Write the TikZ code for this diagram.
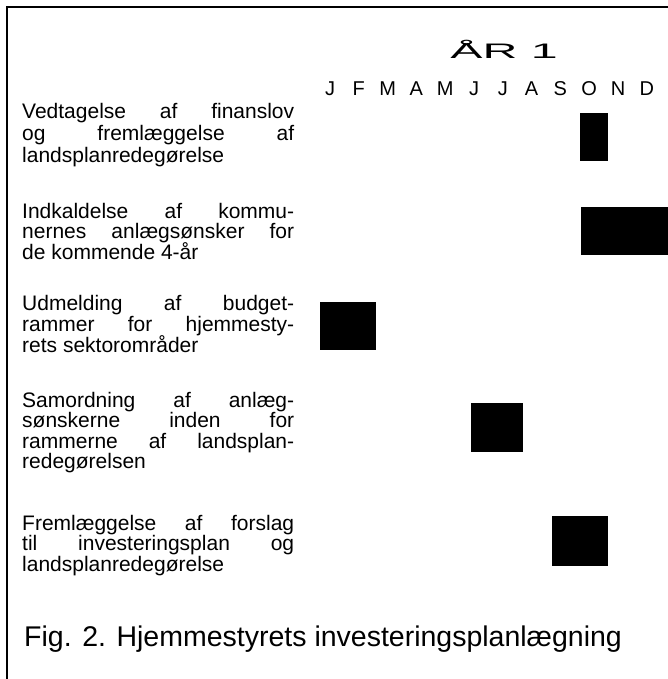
\documentclass[tikz,border=0pt]{standalone}
\usepackage{fontspec}
\setmainfont{Liberation Sans}
\begin{document}
\begin{tikzpicture}[x=1pt,y=-1pt,
  txt/.style={anchor=base west, inner sep=0pt, font=\fontsize{21}{21}\selectfont},
  month/.style={anchor=base, inner sep=0pt, font=\fontsize{20}{20}\selectfont},
  bar/.style={fill=black, draw=none, inner sep=0pt},
  frame/.style={line width=1.2pt}]
\useasboundingbox (0,0) rectangle (668,679);
% frame
\coordinate (bl) at (7,679);
\coordinate (tl) at (7,7);
\coordinate (tr) at (668,7);
\draw[frame] (bl) -- (tl) -- (tr);
% title
\node[anchor=base, inner sep=0pt, font=\fontsize{21}{21}\selectfont] (year) at (504,59) {\scalebox{2.3}[1]{ÅR 1}};
% months
\foreach \m [count=\i from 0] in {J,F,M,A,M,J,J,A,S,O,N,D}
  \node[month] (m\i) at ({330+28.8*\i},96) {\m};
% block 1
\node[txt] (a1) at (22,119) {\makebox[272pt][s]{Vedtagelse af finanslov}};
\node[txt] (a2) at (22,140.5) {\makebox[272pt][s]{og fremlæggelse af}};
\node[txt] (a3) at (22,162) {landsplanredegørelse};
% block 2
\node[txt] (b1) at (22,218) {\makebox[272pt][s]{Indkaldelse af kommu-}};
\node[txt] (b2) at (22,238.5) {\makebox[272pt][s]{nernes anlægsønsker for}};
\node[txt] (b3) at (22,259) {de kommende 4-år};
% block 3
\node[txt] (c1) at (22,310) {\makebox[272pt][s]{Udmelding af budget-}};
\node[txt] (c2) at (22,331) {\makebox[272pt][s]{rammer for hjemmesty-}};
\node[txt] (c3) at (22,352) {rets sektorområder};
% block 4
\node[txt] (d1) at (22,407) {\makebox[272pt][s]{Samordning af anlæg-}};
\node[txt] (d2) at (22,427.5) {\makebox[272pt][s]{sønskerne inden for}};
\node[txt] (d3) at (22,448) {\makebox[272pt][s]{rammerne af landsplan-}};
\node[txt] (d4) at (22,468.5) {redegørelsen};
% block 5
\node[txt] (e1) at (22,530) {\makebox[272pt][s]{Fremlæggelse af forslag}};
\node[txt] (e2) at (22,550.5) {\makebox[272pt][s]{til investeringsplan og}};
\node[txt] (e3) at (22,571) {landsplanredegørelse};
% bars
\node[bar, minimum width=28pt, minimum height=48pt] (bar1) at (594,137) {};
\node[bar, minimum width=87pt, minimum height=48pt] (bar2) at (624.5,231) {};
\node[bar, minimum width=56pt, minimum height=48pt] (bar3) at (348,326) {};
\node[bar, minimum width=52pt, minimum height=49pt] (bar4) at (497,427.5) {};
\node[bar, minimum width=56pt, minimum height=50pt] (bar5) at (580,541) {};
% caption
\node[anchor=base west, inner sep=0pt, font=\fontsize{28.5}{28.5}\selectfont] (cap) at (24,646) {Fig. 2. Hjemmestyrets investeringsplanlægning};
\end{tikzpicture}
\end{document}
